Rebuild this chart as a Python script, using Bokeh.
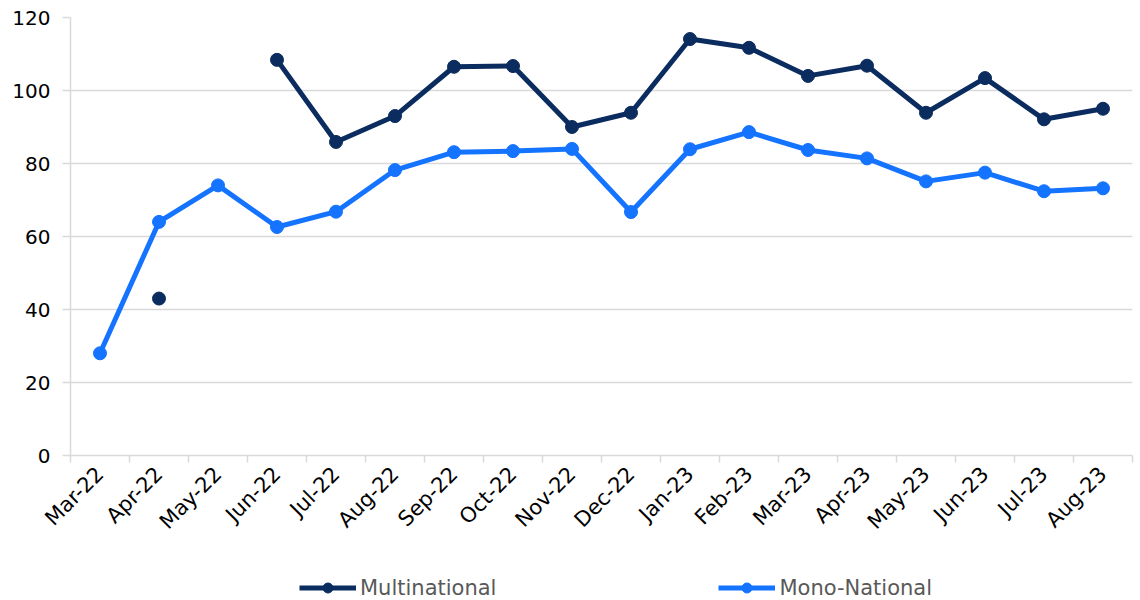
from math import pi
from bokeh.plotting import figure
from bokeh.layouts import column
from bokeh.models import FixedTicker, Legend, LegendItem, Range1d, ColumnDataSource
from bokeh.embed import file_html
from bokeh.resources import INLINE

months = ["Mar-22", "Apr-22", "May-22", "Jun-22", "Jul-22", "Aug-22", "Sep-22", "Oct-22", "Nov-22",
          "Dec-22", "Jan-23", "Feb-23", "Mar-23", "Apr-23", "May-23", "Jun-23", "Jul-23", "Aug-23"]
multinational = [float("nan"), 43.0, float("nan"), 108.4, 85.9, 93.0, 106.5, 106.7, 90.0,
                 93.9, 114.1, 111.7, 104.0, 106.8, 93.9, 103.4, 92.1, 95.0]
mono_national = [28.0, 64.0, 74.0, 62.6, 66.8, 78.2, 83.1, 83.4, 84.0,
                 66.7, 83.9, 88.6, 83.7, 81.4, 75.1, 77.5, 72.4, 73.2]
y_ticks = [0, 20, 40, 60, 80, 100, 120]

DARK = "#0b2c5f"
BLUE = "#1473ff"
GRID = "#d9d9d9"
FONT = "DejaVu Sans"
W = 1134

xs = list(range(1, len(months) + 1))
src = ColumnDataSource(dict(x=xs, multi=multinational, mono=mono_national))

p = figure(width=W, height=568,
           x_range=Range1d(0.5, len(months) + 0.5), y_range=Range1d(0, 120),
           output_backend="svg", toolbar_location=None,
           min_border_left=70, min_border_right=2, min_border_top=17, min_border_bottom=113)
p.outline_line_color = None
p.background_fill_color = "white"
p.border_fill_color = "white"

p.line("x", "multi", source=src, line_color=DARK, line_width=5)
p.scatter("x", "multi", source=src, size=13, fill_color=DARK, line_color=DARK)
p.line("x", "mono", source=src, line_color=BLUE, line_width=5)
p.scatter("x", "mono", source=src, size=13, fill_color=BLUE, line_color=BLUE)

# y axis
p.yaxis.ticker = FixedTicker(ticks=y_ticks)
p.yaxis.axis_line_color = GRID
p.yaxis.axis_line_width = 1.5
p.yaxis.major_tick_line_color = GRID
p.yaxis.major_tick_line_width = 1.5
p.yaxis.major_tick_out = 8
p.yaxis.major_tick_in = 0
p.yaxis.minor_tick_line_color = None
p.yaxis.major_label_text_font = FONT
p.yaxis.major_label_text_font_size = "20px"
p.yaxis.major_label_text_color = "#000000"
p.yaxis.major_label_standoff = 12

# x axis
p.xaxis.ticker = FixedTicker(ticks=xs, minor_ticks=[i + 0.5 for i in range(len(months) + 1)])
p.xaxis.major_label_overrides = {x: m for x, m in zip(xs, months)}
p.xaxis.major_tick_line_color = None
p.xaxis.major_tick_out = 0
p.xaxis.major_tick_in = 0
p.xaxis.minor_tick_line_color = GRID
p.xaxis.minor_tick_line_width = 1.5
p.xaxis.minor_tick_out = 7
p.xaxis.minor_tick_in = 0
p.xaxis.axis_line_color = GRID
p.xaxis.axis_line_width = 1.5
p.xaxis.major_label_orientation = pi / 4
p.xaxis.major_label_text_font = FONT
p.xaxis.major_label_text_font_size = "21px"
p.xaxis.major_label_text_color = "#000000"
p.xaxis.major_label_standoff = 8

p.xgrid.grid_line_color = None
p.ygrid.ticker = FixedTicker(ticks=y_ticks)
p.ygrid.grid_line_color = GRID
p.ygrid.grid_line_width = 1.5

# legend strip (separate figure so that it is not clipped)
lp = figure(width=W, height=32, x_range=Range1d(-3, -2), y_range=Range1d(0, 1),
            x_axis_type=None, y_axis_type=None,
            output_backend="svg", toolbar_location=None, min_border=0)
lp.outline_line_color = None
lp.grid.grid_line_color = None
ll1 = lp.line("x", "multi", source=src, line_color=DARK, line_width=5)
ls1 = lp.scatter("x", "multi", source=src, size=13, fill_color=DARK, line_color=DARK)
ll2 = lp.line("x", "mono", source=src, line_color=BLUE, line_width=5)
ls2 = lp.scatter("x", "mono", source=src, size=13, fill_color=BLUE, line_color=BLUE)
legend = Legend(items=[LegendItem(label="Multinational", renderers=[ll1, ls1]),
                       LegendItem(label="Mono-National", renderers=[ll2, ls2])],
                orientation="horizontal", location=(229, 0), spacing=222,
                glyph_width=57, glyph_height=25, label_standoff=4,
                label_text_font=FONT, label_text_font_size="21px", label_text_color="#595959",
                border_line_color=None, background_fill_alpha=0, padding=2, margin=0)
lp.add_layout(legend, "center")

layout = column(p, lp, spacing=0)
open("out.html", "w").write(file_html(layout, INLINE))
